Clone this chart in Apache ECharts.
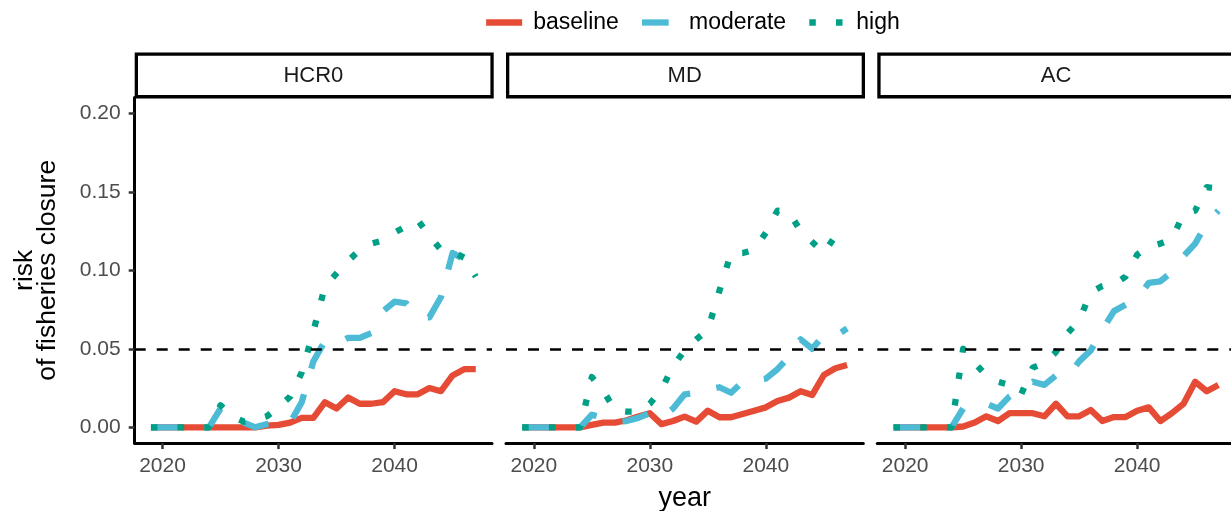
<!DOCTYPE html>
<html>
<head>
<meta charset="utf-8">
<script src="https://cdn.jsdelivr.net/npm/echarts@6/dist/echarts.min.js"></script>
<style>
  html, body { margin: 0; padding: 0; background: #fff; }
  #chart { width: 1231px; height: 511px; }
</style>
</head>
<body>
<div id="chart"></div>
<script>
// years on the x axis
const years = [2019, 2020, 2021, 2022, 2023, 2024, 2025, 2026, 2027, 2028,
  2029, 2030, 2031, 2032, 2033, 2034, 2035, 2036, 2037, 2038,
  2039, 2040, 2041, 2042, 2043, 2044, 2045, 2046, 2047];

const panels = ['HCR0', 'MD', 'AC'];
const scenarios = ['baseline', 'moderate', 'high'];

// risk of fisheries closure
const baselineHCR0 = [0, 0, 0, 0, 0, 0, 0, 0, 0, 0, 0.001, 0.0015, 0.003, 0.006, 0.006,
  0.016, 0.012, 0.019, 0.015, 0.015, 0.016, 0.023, 0.021, 0.021, 0.025, 0.023, 0.033, 0.037, 0.037];
const moderateHCR0 = [0, 0, 0, 0, 0, 0, 0.012, 0.007, 0.003, 0, 0.002, 0.003, 0.003, 0.016, 0.042,
  0.055, 0.053, 0.057, 0.057, 0.060, 0.074, 0.080, 0.079, 0.070, 0.070, 0.083, 0.111, 0.107, 0.099];
const highHCR0 = [0, 0, 0, 0, 0, 0, 0.014, 0.007, 0.0036, 0.005, 0.007, 0.013, 0.0195, 0.035, 0.061,
  0.090, 0.098, 0.106, 0.113, 0.117, 0.119, 0.124, 0.128, 0.132, 0.122, 0.113, 0.112, 0.108, 0.096];

const baselineMD = [0, 0, 0, 0, 0, 0, 0.0015, 0.003, 0.003, 0.0045, 0.0068, 0.009, 0.002, 0.004, 0.0068,
  0.0036, 0.0106, 0.0064, 0.0064, 0.0085, 0.0106, 0.0127, 0.0168, 0.0189, 0.023, 0.0206, 0.0333, 0.0376, 0.0397];
const moderateMD = [0, 0, 0, 0, 0, 0, 0.008, 0.006, 0.0035, 0.004, 0.006, 0.009, 0.006, 0.012, 0.021,
  0.022, 0.024, 0.0255, 0.022, 0.029, 0.030, 0.031, 0.037, 0.045, 0.056, 0.050, 0.059, 0.058, 0.063];
const highMD = [0, 0, 0, 0, 0, 0, 0.032, 0.023, 0.011, 0.010, 0.010, 0.015, 0.024, 0.039, 0.049,
  0.056, 0.062, 0.087, 0.111, 0.111, 0.113, 0.124, 0.138, 0.137, 0.125, 0.118, 0.111, 0.122, 0.120];

const baselineAC = [0, 0, 0, 0, 0, 0, 0.0005, 0.003, 0.007, 0.004, 0.009, 0.009, 0.009, 0.007, 0.015,
  0.007, 0.007, 0.011, 0.004, 0.0065, 0.0065, 0.0106, 0.0127, 0.004, 0.009, 0.015, 0.029, 0.023, 0.027];
const moderateAC = [0, 0, 0, 0, 0, 0, 0.012, 0.014, 0.015, 0.012, 0.0197, 0.024, 0.029, 0.027, 0.033,
  0.032, 0.042, 0.049, 0.062, 0.074, 0.078, 0.082, 0.092, 0.093, 0.099, 0.109, 0.117, 0.130, 0.138];
const highAC = [0, 0, 0, 0, 0, 0, 0.050, 0.041, 0.033, 0.029, 0.027, 0.021, 0.038, 0.041, 0.048,
  0.060, 0.068, 0.086, 0.090, 0.091, 0.096, 0.110, 0.115, 0.117, 0.120, 0.136, 0.138, 0.153, 0.152];

const xTicks = [2020, 2030, 2040];
const yTicks = [0, 0.05, 0.10, 0.15, 0.20];
const threshold = 0.05;

const panelData = [
  [baselineHCR0, moderateHCR0, highHCR0],
  [baselineMD, moderateMD, highMD],
  [baselineAC, moderateAC, highAC]
];

const colors = ['#E64B35', '#4DBBD5', '#00A087'];
const lineTypes = ['solid', [26.7, 26.7], [6.5, 20.2]];
const font = 'Liberation Sans, Arial, sans-serif';

const gridLefts = [134.7, 506, 877.3];
const gridWidth = 357.3;
const gridTop = 97.6;
const gridHeight = 345.4;

function pairs(vals) {
  return years.map((y, i) => [y, vals[i]]);
}

let grids = [], xAxes = [], yAxes = [], series = [], graphics = [];

panels.forEach((p, i) => {
  const first = i === 0;
  grids.push({ left: gridLefts[i], top: gridTop, width: gridWidth, height: gridHeight,
    outerBoundsMode: 'none', containLabel: false });
  xAxes.push({
    type: 'value', gridIndex: i, min: 2017.6, max: 2048.4,
    splitLine: { show: false },
    axisLine: { onZero: false, lineStyle: { color: '#000', width: 3 } },
    axisTick: { customValues: xTicks, length: 6, lineStyle: { color: '#333', width: 2.5 } },
    axisLabel: { customValues: xTicks, margin: 13, fontSize: 21, color: '#4d4d4d', fontFamily: font,
      formatter: v => String(v) },
    name: i === 1 ? 'year' : '',
    nameLocation: 'middle', nameGap: 42,
    nameTextStyle: { fontSize: 27, color: '#000', fontFamily: font }
  });
  yAxes.push({
    type: 'value', gridIndex: i, min: -0.01, max: 0.21,
    splitLine: { show: false },
    axisLine: { show: first, onZero: false, lineStyle: { color: '#000', width: 3 } },
    axisTick: { show: first, customValues: yTicks, length: 6, lineStyle: { color: '#333', width: 2.5 } },
    axisLabel: { show: first, customValues: yTicks, margin: 14, fontSize: 21, color: '#4d4d4d', fontFamily: font,
      formatter: v => v.toFixed(2) },
    name: first ? 'risk\nof fisheries closure' : '',
    nameLocation: 'middle', nameGap: 76, nameRotate: 90,
    nameTextStyle: { fontSize: 26.5, lineHeight: 23, color: '#000', fontFamily: font }
  });

  // dashed threshold line
  series.push({
    type: 'line', xAxisIndex: i, yAxisIndex: i, data: [], z: 1,
    markLine: {
      silent: true, symbol: 'none', animation: false,
      label: { show: false },
      lineStyle: { color: '#000', width: 2.5, type: [11, 11] },
      data: [{ yAxis: threshold }]
    }
  });

  scenarios.forEach((s, j) => {
    series.push({
      name: s, type: 'line', xAxisIndex: i, yAxisIndex: i,
      data: pairs(panelData[i][j]),
      showSymbol: false, symbol: 'none', z: 2 + j,
      color: colors[j],
      lineStyle: { color: colors[j], width: 6.3, type: lineTypes[j], cap: 'butt', join: 'round' },
      animation: false
    });
  });

  // facet strip
  graphics.push({
    type: 'group', left: gridLefts[i], top: 52.5,
    children: [
      { type: 'rect', shape: { x: 1.6, y: 1.6, width: gridWidth - 1.6, height: 42.6 },
        style: { fill: '#fff', stroke: '#000', lineWidth: 3.3 } },
      { type: 'text', x: gridWidth / 2, y: 23,
        style: { text: p, font: '22px ' + font, fill: '#1a1a1a', align: 'center', verticalAlign: 'middle' } }
    ]
  });
});

const chart = echarts.init(document.getElementById('chart'));
chart.setOption({
  animation: false,
  backgroundColor: '#fff',
  legend: {
    data: scenarios, left: 478, top: 6,
    itemWidth: 36, itemHeight: 14, itemGap: 20,
    itemStyle: { opacity: 0 },
    lineStyle: { width: 6.3 },
    textStyle: { fontSize: 23, color: '#000', fontFamily: font, padding: [0, 0, 0, 6] }
  },
  grid: grids,
  xAxis: xAxes,
  yAxis: yAxes,
  series: series,
  graphic: graphics
});
</script>
</body>
</html>
